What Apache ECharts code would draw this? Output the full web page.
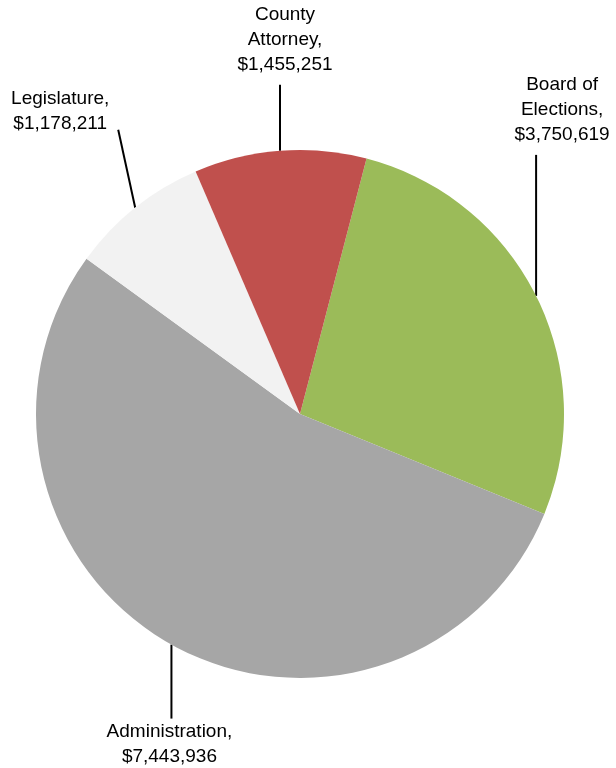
<!DOCTYPE html>
<html>
<head>
<meta charset="utf-8">
<script src="https://cdn.jsdelivr.net/npm/echarts@6/dist/echarts.min.js"></script>
<style>
  html, body { margin: 0; padding: 0; background: #fff; }
  #chart { width: 616px; height: 768px; }
</style>
</head>
<body>
<div id="chart"></div>
<script>
// Budget by department, drawn clockwise starting with Board of Elections
const categories = ['Board of Elections', 'Administration', 'Legislature', 'County Attorney'];
const amounts = [3750619, 7443936, 1178211, 1455251];
const sliceColors = ['#9BBB59', '#A6A6A6', '#F2F2F2', '#C0504D'];

// Leader line end (relative to slice edge) and label anchor (relative to line end)
const calloutLayout = {
  'Board of Elections': { lineDx: 0,   lineDy: -141, textDx: 26, textDy: -8, vAlign: 'bottom' },
  'Administration':     { lineDx: 0,   lineDy: 74,   textDx: -2, textDy: 1,  vAlign: 'top' },
  'Legislature':        { lineDx: -17, lineDy: -78,  textDx: -58, textDy: 7, vAlign: 'bottom' },
  'County Attorney':    { lineDx: 0,   lineDy: -66,  textDx: 5,  textDy: -7, vAlign: 'bottom' }
};

const fmtMoney = v => '$' + v.toLocaleString('en-US');
const wrapName = n => n.replace(/ (\S+)$/, '\n$1');

const chart = echarts.init(document.getElementById('chart'), null, { renderer: 'canvas' });

chart.setOption({
  animation: false,
  backgroundColor: '#ffffff',
  series: [{
    type: 'pie',
    center: [300, 414],
    radius: 264,
    startAngle: 75.4,
    clockwise: true,
    avoidLabelOverlap: false,
    emphasis: { disabled: true },
    itemStyle: { borderWidth: 0 },
    data: categories.map((c, i) => ({
      name: c,
      value: amounts[i],
      itemStyle: { color: sliceColors[i] }
    })),
    label: {
      show: true,
      position: 'outside',
      formatter: p => wrapName(p.name) + ',\n' + fmtMoney(p.value),
      fontFamily: '"Liberation Sans", Arial, sans-serif',
      fontSize: 19,
      lineHeight: 25,
      color: '#000000',
      align: 'center'
    },
    labelLine: {
      show: true,
      length: 10,
      length2: 10,
      lineStyle: { color: '#000000', width: 2 }
    },
    labelLayout: function (params) {
      const name = categories[params.dataIndex];
      const lay = calloutLayout[name];
      const pts = params.labelLinePoints;
      if (!pts || !lay) return {};
      const sx = pts[0][0], sy = pts[0][1];
      const ex = sx + lay.lineDx, ey = sy + lay.lineDy;
      return {
        x: ex + lay.textDx,
        y: ey + lay.textDy,
        align: 'center',
        verticalAlign: lay.vAlign,
        labelLinePoints: [[sx, sy], [ex, ey], [ex, ey]]
      };
    }
  }]
});
</script>
</body>
</html>
